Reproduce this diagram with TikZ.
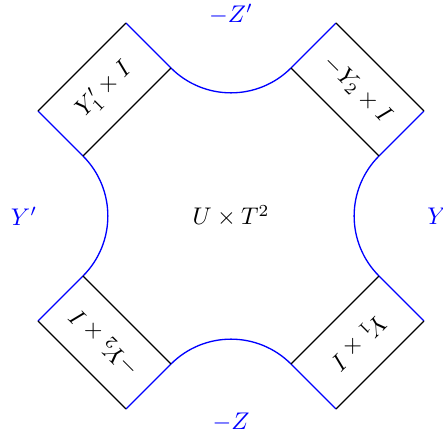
\documentclass[tikz,border=0pt]{standalone}
\begin{document}
\begin{tikzpicture}[x=0.415pt,y=0.415pt,
  bl/.style={blue,line width=0.55pt},
  bk/.style={black,line width=0.55pt},
  lab/.style={inner sep=0pt},
  blab/.style={inner sep=0pt,text=blue}]
\useasboundingbox (-231,-219) rectangle (212,216);
\def\a{60}\def\b{148}\def\d{45}\def\R{35.21pt}
% corners
\coordinate (tlA) at ({-\b},{\a});
\coordinate (tlB) at ({-\a},{\b});
\coordinate (tlC) at ({-\a-\d},{\b+\d});
\coordinate (tlD) at ({-\b-\d},{\a+\d});
\coordinate (trA) at ({\b},{\a});
\coordinate (trB) at ({\a},{\b});
\coordinate (trC) at ({\a+\d},{\b+\d});
\coordinate (trD) at ({\b+\d},{\a+\d});
\coordinate (brA) at ({\b},{-\a});
\coordinate (brB) at ({\a},{-\b});
\coordinate (brC) at ({\a+\d},{-\b-\d});
\coordinate (brD) at ({\b+\d},{-\a-\d});
\coordinate (blA) at ({-\b},{-\a});
\coordinate (blB) at ({-\a},{-\b});
\coordinate (blC) at ({-\a-\d},{-\b-\d});
\coordinate (blD) at ({-\b-\d},{-\a-\d});
% blue boundary
\draw[bl] (tlC) -- (tlB) arc[start angle=225,end angle=315,radius=\R] -- (trC);
\draw[bl] (trD) -- (trA) arc[start angle=135,end angle=225,radius=\R] -- (brD);
\draw[bl] (brC) -- (brB) arc[start angle=45,end angle=135,radius=\R] -- (blC);
\draw[bl] (blD) -- (blA) arc[start angle=-45,end angle=45,radius=\R] -- (tlD);
% black rectangle sides
\draw[bk] (tlA) -- (tlB);
\draw[bk] (tlC) -- (tlD);
\draw[bk] (trA) -- (trB);
\draw[bk] (trC) -- (trD);
\draw[bk] (brA) -- (brB);
\draw[bk] (brC) -- (brD);
\draw[bk] (blA) -- (blB);
\draw[bk] (blC) -- (blD);
% labels
\node[lab] (center) at (0,0) {$U\times T^2$};
\node[lab,rotate=45] (ltl) at (-126.5,126.5) {$Y_1'\times I$};
\node[lab,rotate=-45] (ltr) at (126.5,126.5) {$-Y_2\times I$};
\node[lab,rotate=225] (lbr) at (126.5,-126.5) {$Y_1\times I$};
\node[lab,rotate=135] (lbl) at (-126.5,-126.5) {$-Y_2\times I$};
\node[blab] (zt) at (0,202) {$-Z'$};
\node[blab] (zb) at (0,-206) {$-Z$};
\node[blab] (yl) at (-207,0) {$Y'$};
\node[blab] (yr) at (206,0) {$Y$};
\end{tikzpicture}
\end{document}
